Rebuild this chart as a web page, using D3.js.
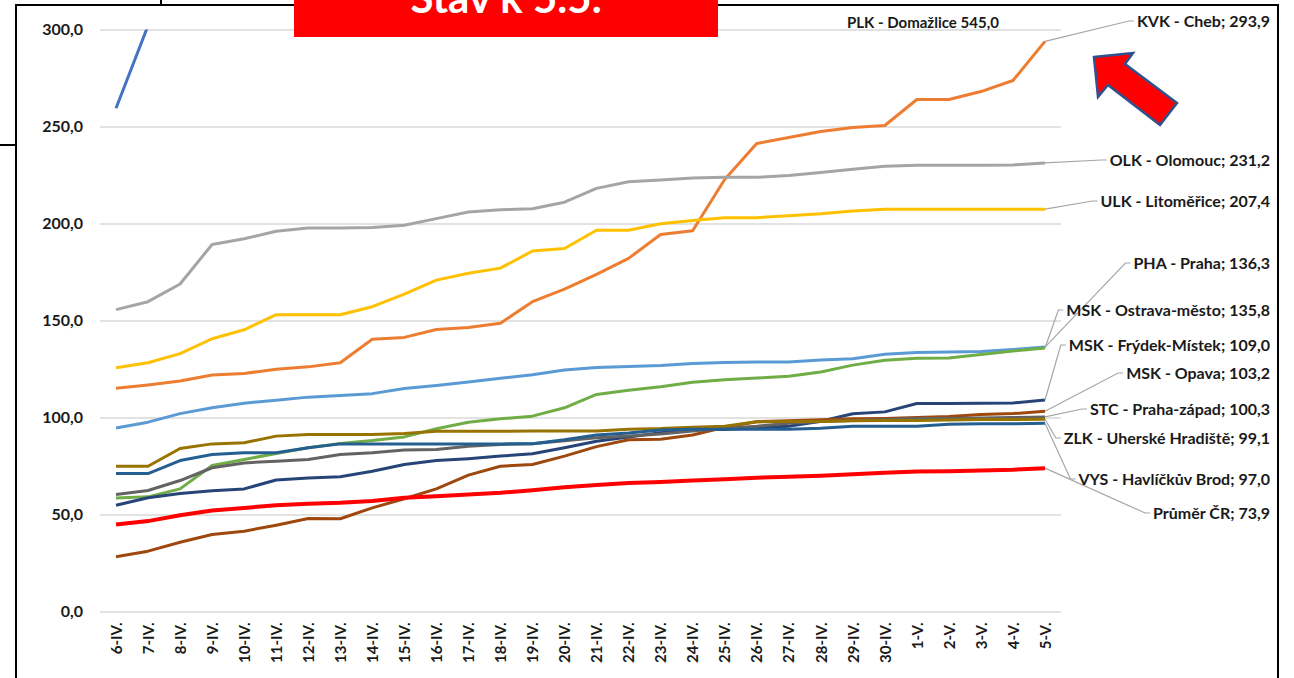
<!DOCTYPE html>
<html>
<head>
<meta charset="utf-8">
<script src="https://cdn.jsdelivr.net/npm/d3@7"></script>
<style>
  body { margin: 0; background: #fff; }
  text { font-family: Lato, "Open Sans", sans-serif; font-weight: bold; }
</style>
</head>
<body>
<script>
// categories (days)
const dates = ["6-IV.", "7-IV.", "8-IV.", "9-IV.", "10-IV.", "11-IV.", "12-IV.", "13-IV.", "14-IV.", "15-IV.",
  "16-IV.", "17-IV.", "18-IV.", "19-IV.", "20-IV.", "21-IV.", "22-IV.", "23-IV.", "24-IV.", "25-IV.",
  "26-IV.", "27-IV.", "28-IV.", "29-IV.", "30-IV.", "1-V.", "2-V.", "3-V.", "4-V.", "5-V."];

const yTicks = [0, 50, 100, 150, 200, 250, 300];

// series values
const plk = [259.4, 302, 330, 362, 385, 400, 412, 422, 431, 440, 449, 457, 465, 472, 479, 486, 493, 499, 505, 510, 515, 520, 524, 528, 532, 536, 539, 541, 543, 545.0];
const kvk = [115.1, 116.8, 118.8, 121.9, 122.7, 124.9, 126.1, 128.2, 140.3, 141.3, 145.4, 146.4, 148.6, 159.7, 166.2, 173.8, 182.0, 194.3, 196.3, 222.7, 241.2, 244.3, 247.4, 249.5, 250.5, 263.9, 263.9, 268.0, 273.7, 293.9];
const olk = [155.6, 159.7, 168.8, 189.2, 192.1, 196.0, 197.7, 197.7, 198.0, 199.1, 202.5, 205.9, 207.1, 207.6, 211.0, 218.1, 221.5, 222.4, 223.5, 223.8, 223.8, 224.8, 226.3, 228.0, 229.5, 230.0, 230.0, 230.0, 230.2, 231.2];
const ulk = [125.6, 128.2, 132.9, 140.6, 145.2, 153.0, 153.0, 153.0, 157.1, 163.6, 170.8, 174.4, 177.0, 185.8, 187.1, 196.5, 196.5, 199.9, 201.6, 203.0, 203.0, 204.0, 205.0, 206.4, 207.4, 207.4, 207.4, 207.4, 207.4, 207.4];
const pha = [94.6, 97.6, 102.0, 105.0, 107.4, 108.9, 110.5, 111.3, 112.3, 114.9, 116.5, 118.3, 120.2, 122.0, 124.5, 125.8, 126.3, 126.8, 127.8, 128.4, 128.6, 128.6, 129.6, 130.3, 132.6, 133.5, 133.8, 134.0, 135.0, 136.3];
const mskOstrava = [58.5, 59.1, 63.2, 75.3, 78.4, 81.4, 84.4, 86.6, 88.1, 90.0, 94.2, 97.6, 99.3, 100.7, 105.0, 111.9, 114.1, 115.8, 118.2, 119.5, 120.3, 121.3, 123.5, 127.0, 129.5, 130.5, 130.7, 132.5, 134.3, 135.8];
const mskFrydek = [54.8, 58.6, 60.8, 62.3, 63.2, 67.8, 68.8, 69.5, 72.3, 75.8, 77.8, 78.8, 80.1, 81.3, 84.4, 87.8, 90.0, 92.1, 93.8, 93.8, 94.7, 95.5, 98.1, 101.9, 102.9, 107.2, 107.2, 107.4, 107.5, 109.0];
const mskOpava = [28.2, 31.1, 35.7, 39.7, 41.4, 44.5, 47.9, 47.8, 53.4, 58.1, 63.2, 70.3, 74.9, 75.8, 80.1, 85.0, 88.5, 88.8, 91.0, 95.0, 97.8, 98.3, 98.8, 99.3, 99.5, 100.0, 100.5, 101.5, 102.0, 103.2];
const stc = [60.3, 62.4, 67.5, 74.1, 76.6, 77.5, 78.4, 80.9, 81.8, 83.2, 83.5, 85.2, 86.1, 86.5, 88.0, 89.5, 90.5, 91.5, 93.0, 94.5, 95.5, 97.0, 98.0, 98.5, 99.0, 99.5, 99.5, 99.8, 100.0, 100.3];
const zlk = [74.9, 74.9, 84.0, 86.4, 87.0, 90.4, 91.2, 91.2, 91.2, 91.8, 92.9, 92.9, 92.9, 93.0, 93.0, 93.0, 94.0, 94.3, 95.0, 95.5, 97.8, 98.0, 98.0, 98.3, 98.5, 98.5, 98.7, 99.0, 99.0, 99.1];
const vys = [71.1, 71.1, 77.8, 80.9, 81.8, 81.8, 84.4, 86.4, 86.4, 86.4, 86.4, 86.4, 86.4, 86.5, 88.5, 91.0, 92.0, 93.5, 94.0, 94.0, 94.0, 94.0, 94.5, 95.5, 95.5, 95.5, 96.5, 96.8, 96.8, 97.0];
const prumer = [44.8, 46.6, 49.6, 52.1, 53.4, 54.8, 55.5, 56.0, 56.9, 58.6, 59.4, 60.3, 61.2, 62.5, 64.0, 65.2, 66.2, 66.8, 67.5, 68.2, 69.0, 69.5, 70.0, 70.8, 71.5, 72.2, 72.3, 72.7, 73.1, 73.9];

const names = ["PLK - Domažlice", "KVK - Cheb", "OLK - Olomouc", "ULK - Litoměřice", "PHA - Praha",
  "MSK - Ostrava-město", "MSK - Frýdek-Místek", "MSK - Opava", "STC - Praha-západ",
  "ZLK - Uherské Hradiště", "VYS - Havlíčkův Brod", "Průměr ČR"];
const values = [plk, kvk, olk, ulk, pha, mskOstrava, mskFrydek, mskOpava, stc, zlk, vys, prumer];
const colors = ["#4472C4", "#ED7D31", "#A5A5A5", "#FFC000", "#5B9BD5", "#70AD47", "#264478",
  "#9E480E", "#636363", "#997300", "#255E91", "#FF0000"];

// label layout (vertical position of each end label, PLK has its own note)
const labelY = [null, 21, 160, 201, 263, 310, 345, 373, 409, 438, 479, 513];

const w = 1294, h = 678;
const plotLeft = 100, plotRight = 1061, plotTop = 29.5, plotBottom = 611.5;

const svg = d3.select("body").append("svg")
  .attr("width", w).attr("height", h);

const x = d3.scalePoint().domain(dates)
  .range([plotLeft + 16, plotRight - 16]);
const y = d3.scaleLinear().domain([0, 300])
  .range([plotBottom, plotTop]);

// frame
svg.append("rect").attr("x", 16).attr("y", 5).attr("width", 1262).attr("height", 700)
  .attr("fill", "none").attr("stroke", "#000").attr("stroke-width", 2);
svg.append("line").attr("x1", 161).attr("x2", 161).attr("y1", 0).attr("y2", 5)
  .attr("stroke", "#000").attr("stroke-width", 2);
svg.append("line").attr("x1", 0).attr("x2", 16).attr("y1", 145).attr("y2", 145)
  .attr("stroke", "#000").attr("stroke-width", 2);

// gridlines + y labels
const yAxis = d3.axisLeft(y).tickValues(yTicks)
  .tickSize(-(plotRight - plotLeft))
  .tickFormat(d => d3.format(".1f")(d).replace(".", ","));
const gy = svg.append("g").attr("transform", "translate(" + plotLeft + ",0)").call(yAxis);
gy.select(".domain").remove();
gy.selectAll(".tick line").attr("stroke", "#d9d9d9").attr("stroke-width", 1.3);
gy.selectAll(".tick text").attr("x", -17).attr("fill", "#1a1a1a")
  .style("font-size", "16px");

// x labels
const xAxis = d3.axisBottom(x).tickSize(0);
const gx = svg.append("g").attr("transform", "translate(0," + plotBottom + ")").call(xAxis);
gx.select(".domain").remove();
gx.selectAll(".tick text")
  .attr("transform", "rotate(-90)")
  .attr("x", -11).attr("y", 0).attr("dy", "0.35em")
  .attr("text-anchor", "end")
  .attr("fill", "#1a1a1a")
  .style("font-size", "15px");

// lines
svg.append("clipPath").attr("id", "plot")
  .append("rect").attr("x", plotLeft).attr("y", plotTop)
  .attr("width", plotRight - plotLeft).attr("height", plotBottom - plotTop);

const line = d3.line().x((d, i) => x(dates[i])).y(d => y(d));

svg.append("g").attr("clip-path", "url(#plot)")
  .selectAll("path")
  .data(values)
  .enter()
  .append("path")
  .attr("d", d => line(d))
  .attr("fill", "none")
  .attr("stroke", (d, i) => colors[i])
  .attr("stroke-width", (d, i) => i === values.length - 1 ? 4 : 3)
  .attr("stroke-linejoin", "round");

// end labels with leader lines
const labelRight = 1270;
const fmt = v => d3.format(".1f")(v).replace(".", ",");
const leaders = svg.append("g");
const labels = svg.append("g");
values.forEach((vals, i) => {
  if (labelY[i] === null) return;
  const last = vals[vals.length - 1];
  const t = labels.append("text")
    .attr("x", labelRight).attr("y", labelY[i]).attr("dy", "0.35em")
    .attr("text-anchor", "end")
    .attr("fill", "#1a1a1a")
    .style("font-size", "16px")
    .text(names[i] + "; " + fmt(last));
  const left = labelRight - t.node().getComputedTextLength();
  leaders.append("path")
    .attr("d", "M" + x(dates[dates.length - 1]) + "," + y(last) +
      "L" + (left - 8) + "," + labelY[i] + "L" + (left - 3) + "," + labelY[i])
    .attr("fill", "none").attr("stroke", "#a6a6a6").attr("stroke-width", 1.2);
});

// note for the series off the scale
svg.append("text").attr("x", 847).attr("y", 28)
  .attr("fill", "#1a1a1a").style("font-size", "15px")
  .text(names[0] + " " + fmt(plk[plk.length - 1]));

// title box (its text runs off the top edge, as in the original)
svg.append("rect").attr("x", 294).attr("y", 0).attr("width", 424).attr("height", 37)
  .attr("fill", "#FF0000");
svg.append("text").attr("x", 506).attr("y", 13)
  .attr("text-anchor", "middle").attr("fill", "#fff")
  .style("font-size", "42px")
  .text("Stav k 5.5.");

// arrow
const arrow = [[1094, 57], [1133, 53], [1125, 64], [1177, 103], [1160, 125], [1108, 85], [1098, 97]];
svg.append("path")
  .attr("d", d3.line()(arrow) + "Z")
  .attr("fill", "#FF0000").attr("stroke", "#2F528F").attr("stroke-width", 2.5)
  .attr("stroke-linejoin", "miter");
</script>
</body>
</html>
